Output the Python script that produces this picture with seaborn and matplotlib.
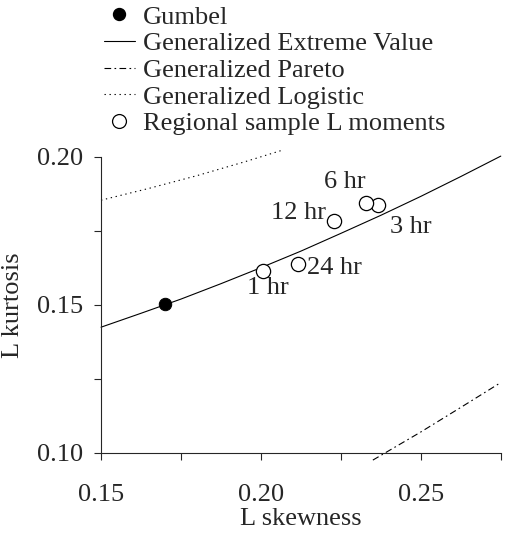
import matplotlib
matplotlib.use("Agg")
import matplotlib.pyplot as plt
from matplotlib.lines import Line2D
import numpy as np
import pandas as pd
import seaborn as sns

# curve points (L skewness, L kurtosis)
gev_t3 = [0.150, 0.1625, 0.175, 0.1875, 0.200, 0.2125, 0.225, 0.2375, 0.250, 0.2625, 0.275]
gev_t4 = [0.1425, 0.1472, 0.1520, 0.1572, 0.1626, 0.1682, 0.1742, 0.1803, 0.1867, 0.1934, 0.2003]
glo_t3 = [0.150, 0.165, 0.180, 0.195, 0.207]
glo_t4 = [0.1854, 0.1894, 0.1937, 0.1984, 0.2024]
gpa_t3 = [0.235, 0.250, 0.2625, 0.275]
gpa_t4 = [0.0976, 0.1071, 0.1154, 0.1238]

gumbel = (0.1699, 0.1504)

durations = ["1 hr", "3 hr", "6 hr", "12 hr", "24 hr"]
sample_t3 = [0.2007, 0.2365, 0.2327, 0.2229, 0.2117]
sample_t4 = [0.1616, 0.1838, 0.1844, 0.1784, 0.1639]
label_x = [0.2023, 0.2469, 0.2263, 0.2205, 0.2231]
label_y = [0.1558, 0.1762, 0.1916, 0.1810, 0.1624]
label_ha = ["center", "center", "center", "right", "center"]

sns.set_style("ticks")
plt.rcParams["font.family"] = ["Liberation Serif", "DejaVu Serif"]
fs = 19

fig = plt.figure(figsize=(5.11, 5.34), dpi=100)
ax = fig.add_axes([0.1977, 0.1517, 0.7823, 0.5543])

lw = 0.8
gpa_ls = (0, (6, 3, 1.5, 3))
glo_ls = (0, (1.2, 3.3))
sns.lineplot(x=gev_t3, y=gev_t4, ax=ax, color="black", lw=lw, clip_on=False)
sns.lineplot(x=gpa_t3, y=gpa_t4, ax=ax, color="black", lw=lw, clip_on=False,
             linestyle=gpa_ls)
sns.lineplot(x=glo_t3, y=glo_t4, ax=ax, color="black", lw=lw, clip_on=False,
             linestyle=glo_ls)

sns.scatterplot(x=[gumbel[0]], y=[gumbel[1]], ax=ax, color="black", s=80,
                edgecolor="black", zorder=5, clip_on=False)
pts = pd.DataFrame({"t3": sample_t3, "t4": sample_t4})
sns.scatterplot(data=pts, x="t3", y="t4", ax=ax, facecolor="white", s=105,
                edgecolor="black", linewidth=0.9, zorder=5, clip_on=False)

for lab, x, y, ha in zip(durations, label_x, label_y, label_ha):
    ax.text(x, y, lab, ha=ha, va="center", fontsize=fs)

ax.set_xlim(0.15, 0.275)
ax.set_ylim(0.10, 0.20)
ax.set_xticks([0.15, 0.20, 0.25])
ax.set_xticks([0.175, 0.225, 0.275], minor=True)
ax.set_yticks([0.10, 0.15, 0.20])
ax.set_yticks([0.125, 0.175], minor=True)
ax.set_xticklabels(["0.15", "0.20", "0.25"])
ax.set_yticklabels(["0.10", "0.15", "0.20"])
ax.tick_params(axis="both", which="both", length=5, width=0.8, direction="out",
               labelsize=fs)
ax.tick_params(axis="x", which="major", pad=17)
ax.tick_params(axis="y", which="major", pad=8)
sns.despine(ax=ax)
for s in ["left", "bottom"]:
    ax.spines[s].set_linewidth(0.8)

ax.set_xlabel("L skewness", fontsize=fs, labelpad=2)
ax.set_ylabel("L kurtosis", fontsize=fs, labelpad=9)

handles = [
    Line2D([], [], marker="o", color="black", ls="none", markersize=8.6),
    Line2D([], [], color="black", lw=lw),
    Line2D([], [], color="black", lw=lw, ls=gpa_ls),
    Line2D([], [], color="black", lw=lw, ls=glo_ls),
    Line2D([], [], marker="o", markerfacecolor="white", markeredgecolor="black",
           markeredgewidth=0.9, ls="none", markersize=10),
]
labels = ["Gumbel", "Generalized Extreme Value", "Generalized Pareto",
          "Generalized Logistic", "Regional sample L moments"]
fig.legend(handles, labels, loc="upper left", bbox_to_anchor=(0.168, 1.025),
           frameon=False, fontsize=fs, handlelength=1.15, handletextpad=0.3,
           labelspacing=0.12, borderpad=0.2)

fig.savefig("out.png", dpi=100)
